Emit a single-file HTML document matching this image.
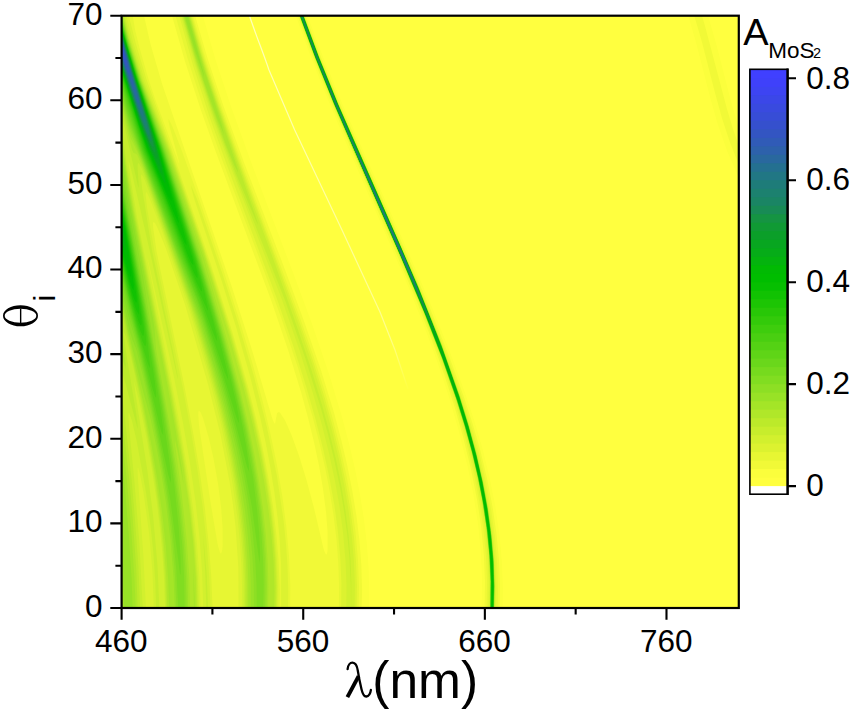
<!DOCTYPE html>
<html><head><meta charset="utf-8"><style>
html,body{margin:0;padding:0;background:#fff;width:850px;height:710px;overflow:hidden}
svg{display:block}
text{font-family:"Liberation Sans", sans-serif;fill:#000}
.t{font-size:31.5px}
</style></head><body>
<svg width="850" height="710" viewBox="0 0 850 710">
<rect x="121.6" y="15.7" width="617.1999999999999" height="592.3" fill="#ffff40"/>
<rect x="121.6" y="15.7" width="617.20" height="592.30" fill="rgb(255, 255, 63)"/>
<path fill="rgb(251, 254, 60)" fill-rule="evenodd" d="M368.6 607.7l-247 0.0 0 -592.0 81.2 0.0 12.3 42.7 15.5 47.1 21.5 59.6 41.7 109.6 18.1 49.0 17 50.0 13 43.0 7 26.5 6 25.5 5 25.5 4 25.0 2.9 24.5 1.7 23.0 0.7 25.5 -0.2 15.5 -0.4 0.0zM502.1 607.7l-20.4 0.0 0.4 -27.0 -1 -26.0 -3 -30.4 -4.5 -29.1 -6 -29.3 -9 -36.0 -9.5 -32.6 -11 -33.2 -13.5 -36.9 -16 -40.0 -62.3 -144.0 -21 -50.0 -16 -40.5 -13.5 -37.0 11.6 0.0 15.7 41.6 20 48.4 65.2 146.5 23.6 55.0 17.9 44.5 14.6 39.5 10 30.0 8.5 29.0 6.9 28.5 5.5 28.0 4 27.5 2.5 26.5 1.1 28.5 -0.4 18.5 -0.4 0.0zM738.6 177.1l-11.2 -25.4 -9.6 -27.5 -7.4 -26.0 -14.8 -57.5 -7.3 -25.0 19.7 0.0 0.9 3.0 7.5 26.0 14.7 57.3 7.5 25.6 0 49.5z"/>
<path fill="rgb(241, 249, 55)" fill-rule="evenodd" d="M361.6 607.7l-240 0.0 0 -592.0 22.4 0.0 6.6 28.9 11.5 39.5 69.7 202.6 19.5 61.0 20.8 70.3 2 5.0 0.5 0.6 0.5 -0.1 2 -10.4 1.5 -1.2 1.5 0.8 5 7.8 6.5 14.8 7.5 20.7 7.3 23.7 7.4 27.5 9.3 39.7 1.5 5.2 1.5 2.7 1 -1.4 0.5 -3.7 0 -17.6 -1.5 -19.6 -3 -23.3 -4 -23.1 -5 -23.7 -6 -24.5 -7 -25.6 -13 -42.4 -16.5 -48.3 -56.2 -150.9 -14.6 -41.0 -16 -49.0 -12.8 -45.0 23.1 0.0 12.5 42.7 15.5 46.5 21 57.8 41.3 108.0 19 51.5 16.4 47.5 13.1 42.5 7.4 28.0 6 25.5 5 25.0 4.1 25.0 3 24.5 1.9 24.5 0.8 25.5 -0.5 17.5zM499.6 607.7l-15 0.0 0.4 -26.0 -1.1 -26.5 -2.8 -29.0 -4 -26.5 -6 -30.0 -8 -32.7 -8.5 -30.0 -10.5 -32.7 -12.5 -34.9 -15.5 -39.7 -83.8 -194.5 -19.5 -48.5 -15 -41.0 7.6 0.0 15.7 41.6 19.5 47.4 67.2 151.5 22.6 53.0 18.9 47.5 14.5 40.0 9.1 28.0 7.5 26.0 6.9 29.0 5.4 28.0 3.7 25.5 2.5 26.0 1.1 25.0 -0.4 23.5zM738.6 164.2l-8.5 -21.4 -8 -24.4 -6.5 -23.3 -13.7 -53.4 -7.6 -26.0 7.6 0.0 2.7 8.7 22.3 84.3 6 20.0 5.7 16.5 0 19.0z"/>
<path fill="rgb(231, 246, 51)" fill-rule="evenodd" d="M290.1 607.7l-168.5 0.0 0 -592.0 11.1 0.0 2.4 14.2 5 20.2 8.5 29.3 6.5 19.6 24 64.8 0 -1.5 -9.5 -35.8 -1.1 -5.3 0.1 -2.4 4 8.1 9 23.4 17.8 49.4 23 67.5 16.9 52.5 13.5 45.0 9.6 35.5 7.9 33.0 6.6 31.5 5.4 31.5 4 30.5 2.6 28.0 1.4 30.0 -0.2 23.0zM358.6 607.7l-19.7 0.0 0.2 -22.5 -0.9 -23.5 -1.6 -20.9 -3 -25.2 -4 -25.0 -4.5 -22.9 -5.5 -24.1 -7 -26.9 -14 -47.1 -17.5 -52.0 -17 -46.7 -42.7 -113.2 -18 -50.5 -15.4 -47.5 -12.5 -44.0 17.5 0.0 12.6 43.0 16.5 49.5 21 58.0 55.8 148.5 13.9 39.5 11.5 35.5 8.6 29.5 7.9 31.0 6.1 27.5 5 28.0 3.6 26.0 2.4 27.0 1.1 27.0 -0.4 22.0zM497.1 607.7l-10.5 0.0 0.5 -25.0 -1 -25.5 -2.5 -26.4 -4 -27.6 -5.5 -28.4 -8 -33.2 -8.5 -30.5 -9.5 -30.0 -14 -39.4 -15.5 -39.5 -22 -51.9 -63.4 -146.1 -19 -47.0 -15.3 -41.5 5.4 0.0 15.3 40.9 19.5 47.6 65.8 148.5 22.5 53.0 20.5 51.5 15.5 43.5 8.9 28.0 7.1 25.0 6.5 28.0 5.3 28.5 3.7 26.5 2.2 26.0 0.9 28.0 -0.4 17.0 -0.5 0.0zM221.3 553.2l0.8 -2.3 0.6 -5.7 -0.1 -17.6 -1.5 -20.2 -3 -23.4 -4.5 -25.3 -5 -21.8 -5.5 -18.6 -2.5 -6.1 -1.5 -1.8 -0.7 0.8 -0.2 3.0 0.9 12.1 11 73.5 7.5 44.5 2 7.4 1 1.7 0.7 -0.2z"/>
<path fill="rgb(220, 242, 48)" fill-rule="evenodd" d="M279.6 607.7l-41.1 0.0 -0.1 -39.5 -2.8 -41.2 -2.5 -21.5 -3.5 -23.6 -9 -46.8 -12.5 -50.7 -23 -79.7 -19 -55.8 -8.5 -20.8 -2.5 -4.9 -1.5 -1.5 -0.6 1.5 0.2 5.0 3.4 23.5 27.7 134.0 9 48.0 6.6 39.5 5 35.5 3.9 36.0 2.5 32.5 1.2 30.5 -90.9 0.0 0 -592.0 7.2 0.0 7.2 28.5 10.6 35.5 25.4 70.5 37.4 109.5 23 72.5 15.5 54.0 8 31.5 6.9 31.0 5.5 28.5 4.6 28.5 3.4 28.5 2.1 24.0 1.4 31.0 -0.2 18.5zM356.6 607.7l-15.4 0.0 0.2 -25.0 -1.1 -25.0 -2.4 -26.5 -3.5 -26.0 -5.1 -28.0 -6 -27.5 -7.5 -29.5 -9.4 -33.0 -13 -41.0 -16.1 -46.5 -50.7 -135.4 -16.4 -45.6 -17.4 -54.0 -13.5 -49.0 12.6 0.0 12.7 43.5 15.5 46.9 21 58.6 58.2 156.5 14 40.5 11.5 36.5 8.4 30.0 7 28.5 5.6 26.5 4.6 26.5 3.4 26.0 2.1 24.5 1 25.0 -0.3 22.5zM495.6 607.7l-7.2 0.0 0.4 -25.0 -1 -25.0 -2.2 -24.5 -4 -27.9 -5.5 -28.6 -7.5 -31.4 -8 -29.1 -9 -28.7 -13 -36.8 -16.5 -42.0 -21.5 -51.0 -66.3 -152.0 -19.5 -48.0 -15.6 -42.0 4.8 0.0 14.6 39.5 20 49.0 76.8 174.5 26.1 64.5 20 56.0 8.8 28.0 7.5 26.5 6.6 28.5 4.9 26.5 3.7 26.0 2.3 26.0 0.9 26.0 -0.6 21.0zM288.1 607.7l-7 0.0 0 -42.6 -1.5 -26.3 -2 -21.3 -3 -23.8 -4 -25.0 -4.9 -26.0 -5.5 -25.5 -10.4 -42.0 -13.5 -47.5 -14.5 -46.5 -27.2 -81.3 -3 -10.7 -0.5 -3.7 6 14.0 8 23.2 17 50.4 15.5 48.1 16.5 55.8 13 51.1 10 48.9 6.5 43.8 2.5 24.6 1.4 20.8 0.7 22.5 -0.1 19.0z"/>
<path fill="rgb(210, 240, 46)" fill-rule="evenodd" d="M277.6 607.7l-35.8 0.0 0.2 -22.0 -0.7 -22.0 -1.2 -19.5 -2.5 -25.8 -6.5 -44.4 -10 -49.2 -12.5 -49.2 -19 -64.6 -27 -78.4 -11.5 -30.5 -3.5 -8.2 -1.5 -2.2 -0.5 3.0 1.5 13.3 7 41.7 28.5 137.4 8.5 45.2 6.5 38.9 5 35.5 4.1 36.0 2.5 33.0 1.3 32.0 -7.2 0.0 -1.2 -36.1 -2.5 -33.4 -4 -36.1 -5.5 -38.1 -7 -40.6 -8.5 -43.3 -27 -122.3 0 2.7 30.2 153.2 10.6 61.5 5 36.0 3.5 32.0 2.5 32.5 1.2 32.0 -46.8 0.0 -1.3 -35.5 -3.4 -39.0 -5.5 -40.2 -3.5 -18.5 -2 -7.0 -0.5 1.1 0.1 6.1 5.7 81.5 2.5 51.5 -24.3 0.0 0 -592.0 4.9 0.0 6.6 26.5 11.5 37.5 26.3 70.5 42 123.5 19.9 63.5 14.6 51.5 7.9 31.5 6.5 29.5 5.5 29.0 4.1 26.5 3.4 28.5 2.1 25.5 1 27.5 -0.3 21.0zM354.6 607.7l-8.3 0.0 0.2 -23.0 -1 -24.5 -2.4 -27.1 -3.5 -26.0 -4.5 -25.6 -6 -28.0 -7 -28.0 -9 -31.8 -14 -44.6 -17 -49.0 -52.2 -134.9 -17 -46.0 -18.1 -55.0 -13.8 -48.5 10.1 0.0 12 41.5 15.5 47.4 21 59.1 38 102.5 21 58.2 13.5 39.4 11.5 36.9 8 28.8 7 28.6 5.5 26.4 4.5 26.5 3.2 25.2 2.1 25.0 1 24.0 -0.3 22.5zM494.1 607.7l-4.5 0.0 0.5 -23.0 -1.5 -32.7 -3 -27.9 -4.5 -28.1 -5 -24.4 -6.5 -26.4 -6 -21.5 -8.5 -27.2 -14.5 -41.3 -16 -40.9 -24 -57.1 -45.8 -104.0 -21 -49.0 -19 -47.0 -15.4 -41.5 4.4 0.0 16.8 45.0 19.5 47.5 77.8 177.0 24 60.0 18.1 51.0 9.4 30.5 7.5 27.5 6.5 28.0 5.1 27.5 4 30.0 1.9 25.0 0.6 29.5 -0.4 13.5 -0.5 0.0z"/>
<path fill="rgb(199, 237, 44)" fill-rule="evenodd" d="M276.6 607.7l-32.9 0.0 0.1 -24.0 -0.9 -24.5 -1.8 -24.3 -3 -26.8 -4 -26.8 -5 -27.3 -6 -27.9 -7 -28.8 -16 -57.3 -12.5 -39.8 -32.5 -92.5 -10 -26.8 -2 -4.5 -1.5 -1.9 -0.5 0.7 -0.1 2.5 1.1 10.6 9.8 61.4 20.7 99.7 5 26.2 0.4 2.6 -0.4 0.3 -26.3 -120.8 -20.2 -88.7 -2.5 -8.5 0 3.7 2 15.4 7 41.0 34.7 172.1 7.5 40.0 6 35.5 5.5 39.0 4 36.0 2.5 33.5 1.2 31.0 -33.9 0.0 -1 -28.5 -1.5 -23.3 -2.5 -26.8 -3.5 -28.9 -5 -33.3 -5.5 -31.3 -7.5 -36.9 -4.5 -17.6 1 10.3 12.5 80.9 5.5 43.6 4.5 50.9 1.7 40.9 -3.2 0.0 -0.8 -26.0 -2 -29.5 -3 -28.5 -4.5 -32.5 -9.2 -50.8 -4.5 -19.2 -3 -8.6 -0.5 0.4 -0.2 2.7 0.7 11.5 5.2 53.0 5.1 63.0 3.3 64.5 -21.1 0.0 0 -592.0 3.2 0.0 5.3 21.8 13 42.4 26.8 69.8 34.4 100.5 25.3 79.3 17 59.8 8 32.1 6.5 29.8 5.2 27.5 4.3 28.0 3.1 26.5 2.1 26.0 1.1 27.0 -0.3 21.5zM351.1 606.9l-0.3 -22.2 -1.4 -28.0 -2.1 -21.5 -3 -22.5 -3.9 -23.5 -5.6 -27.0 -6.4 -26.5 -7.1 -26.0 -16 -51.5 -19.9 -57.0 -51.5 -129.5 -19.5 -52.0 -18.5 -55.5 -13.9 -48.5 8.4 0.0 11.2 39.1 14 43.5 35.9 101.4 23.6 64.5 23 66.0 13.5 40.4 10.5 34.6 7.5 27.7 6.5 27.2 5.5 27.2 4 24.4 3 24.1 2 24.7 0.7 20.7 -0.2 25.7zM494.1 607.7l-4.2 0.0 0.3 -30.0 -1.1 -22.5 -3 -29.3 -4.5 -28.6 -5 -24.6 -6 -24.7 -6.5 -23.3 -8.5 -27.3 -14.5 -41.3 -17 -43.4 -22.5 -53.5 -45.8 -104.0 -22.5 -52.5 -19 -47.0 -14.7 -40.0 3.5 0.0 0.8 0.5 13.7 37.0 20.5 50.5 79.3 180.5 24 60.0 18.5 52.5 9.5 30.5 7.5 28.0 6 26.0 5 26.5 3.5 25.0 2.5 27.5 0.9 27.5 -0.7 20.0zM178.1 380.7l0 -2.4 0 2.4zM178.6 382.8l0 -1.6 0 1.6zM202.6 534.4l0 -3.7 0 3.7zM208.1 607.7l-1.8 0.0 -0.9 -32.5 -2.3 -40.5 3.5 38.2 1.5 34.8z"/>
<path fill="rgb(188, 234, 42)" fill-rule="evenodd" d="M275.6 607.7l-30.4 0.0 0.1 -23.5 -0.9 -24.0 -1.8 -25.0 -2.8 -25.0 -3.6 -25.0 -4.6 -25.8 -5.5 -26.3 -7 -29.5 -12.5 -46.0 -15.5 -50.6 -43.5 -123.4 -6 -15.6 -3 -5.1 -0.8 0.8 -0.3 3.0 1.3 21.0 -0.7 -1.3 -13 -57.5 -3.5 -12.1 0 -101.1 2.2 0.0 5.3 21.7 13 42.4 27 70.2 34.5 100.4 25.5 80.6 17 60.1 7.5 30.3 6.5 29.7 5.5 29.4 4 26.2 3 25.1 2.2 26.9 1 27.0 -0.2 22.0zM257.6 224.6l-21.5 -50.8 -20.7 -54.1 -18.5 -55.0 -14.2 -49.0 7.1 0.0 8.8 31.4 10.7 34.6 45.8 133.3 2.5 7.7 0 1.9zM494.1 607.7l-4 0.0 0.2 -26.5 -1.2 -27.8 -3 -28.5 -4.5 -28.3 -5 -24.4 -5.5 -22.7 -7 -25.2 -8 -25.7 -14.5 -41.4 -18 -46.0 -23 -54.5 -44.3 -100.5 -22.5 -52.5 -18.4 -45.5 -15.8 -42.5 3.5 0.0 0.7 0.5 14.3 38.5 19.5 48.0 80.3 183.0 23 57.5 17.9 50.5 9.6 30.5 8 29.5 6.5 28.0 5 27.0 3.5 25.0 2.5 28.5 0.7 23.0 -0.5 22.5zM197.6 607.7l-31.4 0.0 -1.1 -31.0 -2.3 -31.5 -3.6 -34.0 -4.6 -33.0 -7 -41.5 -9 -45.6 -9 -40.6 -4 -14.7 -2 -4.8 0 3.5 2 15.0 10.5 64.0 1.5 11.4 0 4.0 -11.5 -43.6 -4.5 -14.5 0 -244.1 5 37.5 8 46.6 36.7 181.9 13 72.5 5.8 41.0 4.1 36.5 2.7 36.5 0.7 28.5zM258.1 225.3l0 -0.7 0 0.7zM140.1 607.7l-18.5 0.0 0 -219.2 10 91.2 2.6 30.0 4.1 55.0 1.8 43.0z"/>
<path fill="rgb(176, 231, 41)" fill-rule="evenodd" d="M274.1 607.7l-27.5 0.0 0.2 -23.5 -0.9 -24.0 -1.7 -23.5 -2.8 -25.5 -3.6 -25.0 -4.9 -27.0 -5.5 -26.5 -6.5 -27.0 -10.6 -39.5 -13.8 -46.5 -29.9 -85.7 -24 -66.8 -5 -11.4 -1.5 -2.0 -2.5 -0.9 -1.5 -3.0 -10.5 -41.8 0 -92.4 1.5 0.0 5.5 22.3 13 42.4 26.7 69.8 36.3 106.1 24 77.5 16 57.5 8 32.7 6.5 30.4 5 27.1 4.5 29.7 3 25.8 2 26.0 0.9 28.2 -0.4 16.5zM238.1 172.8l-4 -8.1 -8 -19.5 -16 -43.1 -15 -45.5 -11.7 -40.9 5.8 0.0 15.1 52.5 30.3 91.4 3 9.7 0.5 3.5zM493.6 607.7l-3.4 0.0 0.3 -24.0 -1.4 -31.5 -3 -28.0 -4 -25.4 -5 -24.8 -6 -24.9 -6.5 -23.4 -8.5 -27.4 -13.5 -38.6 -17.5 -45.0 -25.5 -60.5 -44.3 -100.5 -21.4 -50.0 -19.1 -47.0 -15.1 -41.0 3.8 0.0 15.1 40.5 20 49.0 78.8 179.5 24 60.0 18 51.0 9.4 30.5 7.6 28.0 6.5 28.0 5 27.0 3.9 29.5 2 25.0 0.7 28.5 -0.4 15.5 -0.5 0.0zM196.6 607.7l-29.3 0.0 -1 -30.5 -2.4 -32.5 -3.5 -33.0 -4.6 -32.5 -6 -36.0 -7.5 -39.5 -20.7 -93.7 0 -172.9 5 33.4 7 39.7 36 179.0 13.5 75.3 6 41.8 4 36.0 2.6 33.9 0.9 31.5zM125.6 368.6l-4 -11.7 0 -20.3 4 27.4 0 4.6zM137.6 607.7l-16 0.0 0 -193.5 7.7 65.5 3.2 36.5 3.8 54.0 1.3 37.5z"/>
<path fill="rgb(164, 229, 39)" fill-rule="evenodd" d="M268.1 607.7l-19.8 0.0 0.1 -24.0 -0.9 -24.5 -1.7 -23.0 -2.9 -25.5 -3.5 -24.0 -4.6 -25.5 -5.4 -26.0 -6.6 -27.5 -10.9 -40.5 -14.2 -47.5 -54.6 -153.7 -5 -12.7 -7.5 -15.5 -5.2 -19.1 -3.8 -15.3 0 -87.7 0.9 0.0 5.6 22.4 12.9 42.1 26.3 70.0 36.8 108.8 23.8 84.2 12.4 47.0 7.5 32.0 6.6 32.0 4.4 25.5 4.1 28.5 3 27.0 1.8 26.0 0.7 25.0 -0.3 21.5zM224.1 134.7l-6.5 -15.0 -13.5 -38.0 -11 -34.2 -9.1 -31.8 4.6 0.0 11.7 42.0 21.3 66.9 2.5 10.1zM493.6 607.7l-3.4 0.0 0.4 -25.5 -1 -24.3 -2.5 -26.5 -4.5 -30.2 -5 -25.3 -6 -25.2 -7.5 -27.0 -7.5 -24.1 -14.5 -41.5 -18 -46.0 -24 -56.9 -65.7 -150.5 -18.5 -45.5 -16.2 -43.5 3.8 0.0 16.6 44.4 19.5 47.6 60.3 136.5 18.4 43.0 23.5 59.0 17.5 49.5 9 29.0 8 29.5 6.6 28.5 5 27.0 3.9 30.0 2 25.0 0.6 26.5 -0.4 16.5 -0.4 0.0zM190.1 607.7l-20.9 0.0 -0.9 -26.5 -2.4 -34.0 -3.5 -32.5 -4.5 -32.0 -6 -35.5 -8.5 -44.0 -21.8 -98.1 0 -161.5 10.3 62.1 35.7 180.4 8 43.8 6 37.3 2 17.5 -5.9 -32.5 -2.6 -11.6 0 4.2 6.3 46.9 5.4 49.5 2.5 36.0 0.8 30.5zM135.1 607.7l-13.5 0.0 0 -170.2 5.3 42.7 4.2 48.1 3.4 51.4 1.1 28.0 -0.5 0.0zM184.1 487.1l0 -1.2 0 1.2zM191.6 552.5l0 -1.5 0 1.5zM192.1 560.2l0 -4.2 0 4.2zM192.6 568.3l0 -6.5 0 6.5zM194.6 607.7l-0.6 0.0 -0.9 -39.4 1.5 27.4 0 12.0z"/>
<path fill="rgb(152, 226, 38)" fill-rule="evenodd" d="M266.6 607.7l-15.8 0.0 0 -23.0 -1 -24.5 -2 -25.0 -2.9 -25.5 -3.5 -23.0 -5.1 -27.0 -11.9 -52.0 -11.1 -40.5 -14.4 -47.5 -56.3 -157.2 -12.5 -30.9 -5.7 -20.4 -2.8 -11.7 0 -83.8 0.4 0.0 7.1 27.4 11.4 37.1 25.8 70.0 33.6 102.0 25.4 87.0 14.6 54.5 7.4 32.0 6 30.0 4.5 26.5 3.9 28.0 2.8 25.5 1.7 25.0 0.7 24.5 -0.3 22.5zM204.1 76.8l-9.5 -27.7 -9.8 -33.4 3 0.0 15.8 57.4 0.5 3.7zM493.6 607.7l-3.3 0.0 0.4 -26.0 -1.1 -24.8 -2.5 -26.0 -4.5 -30.1 -5 -25.2 -6 -25.1 -7 -25.3 -8 -25.8 -15 -42.8 -18 -45.9 -23 -54.5 -65.8 -150.5 -19.4 -48.0 -15.6 -42.0 3.6 0.0 15.7 42.0 20 49.0 78.8 179.5 22.9 57.5 18.6 52.5 9.4 30.5 7.6 28.0 6.4 28.0 5.1 27.5 3.4 25.5 2.1 23.0 0.9 27.5 -0.7 21.5zM204.6 77.8l0 -0.7 0 0.7zM188.1 607.7l-13.3 0.0 -1.2 -29.5 -3 -36.9 -4.5 -37.7 -5 -31.5 -4.5 -24.7 -6 -28.3 -10 -37.3 -12.6 -51.6 -6.4 -29.6 0 -151.0 9.3 55.1 22.2 114.9 1.5 10.0 1.5 20.1 12.8 71.5 7.5 47.5 5.5 42.5 3.4 34.0 2.2 34.0 0.6 28.5zM132.6 607.7l-8.4 0.0 -2.6 -52.6 0 -93.2 2.6 18.3 4.4 51.9 3 46.6 1 29.0z"/>
<path fill="rgb(141, 223, 36)" fill-rule="evenodd" d="M265.1 607.7l-11.1 0.0 -0.2 -24.0 -1.4 -27.5 -2.5 -27.0 -3.8 -29.0 -4.5 -25.3 -5.5 -26.7 -7.8 -32.0 -8.4 -31.5 -19.7 -65.0 -57.6 -159.3 -13 -34.1 -5.2 -18.6 -2.8 -11.7 0 -80.3 6 23.5 12.5 41.0 25.4 70.0 35.5 109.5 23.3 79.5 15 56.5 7 30.5 5.9 30.0 4.4 26.0 4 29.4 2.5 24.1 1.7 25.0 0.6 24.0 -0.3 23.0zM493.6 607.7l-3.2 0.0 0.3 -26.5 -1.1 -25.2 -2.5 -25.7 -4.5 -29.8 -5 -25.2 -6 -25.1 -6.5 -23.5 -8.5 -27.5 -14 -40.1 -17.5 -44.9 -24.5 -58.1 -65.7 -150.4 -19.5 -48.0 -15.6 -42.0 3.6 0.0 14.7 39.6 19.5 47.9 63.2 143.5 18 42.0 22.5 56.5 18 51.0 9 29.0 8 29.5 6.5 28.5 5 27.0 3.5 26.0 2 23.5 1 27.0 -0.7 21.0zM186.6 607.7l-10.1 0.0 -1.6 -34.0 -3.1 -36.5 -4.6 -37.0 -6.1 -37.2 -8.5 -43.9 -9 -40.7 -7 -28.2 -4 -9.9 -3 -9.5 -8 -35.2 0 -139.0 6.3 37.6 15.6 85.0 11.1 70.5 12.2 67.0 8 50.5 5.5 42.5 3.3 33.1 2.2 33.9 0.8 31.0z"/>
<path fill="rgb(129, 221, 33)" fill-rule="evenodd" d="M493.6 607.7l-3.2 0.0 0.4 -26.5 -1.2 -25.5 -2.5 -25.8 -4.5 -29.7 -5 -25.0 -5.9 -25.0 -7.1 -25.4 -8 -25.6 -14.5 -41.5 -18 -46.0 -24.5 -58.0 -65.7 -150.5 -19 -47.0 -15 -40.5 3.4 0.0 15.3 41.0 20 49.0 61.7 140.0 18.5 43.0 22.5 56.5 17.5 49.5 9.4 30.5 8 29.5 6 26.0 5.1 27.0 3.5 24.5 2.5 27.5 0.9 26.5 -0.6 21.5zM263.1 607.7l-6.3 0.0 -0.2 -22.5 -1.4 -26.5 -2.5 -26.5 -3.6 -27.5 -4.5 -25.7 -6 -28.7 -13 -51.4 -11.5 -39.6 -12.5 -39.6 -26 -69.7 -46 -127.2 -5 -17.4 -3 -12.9 0 -75.2 6 23.2 12 39.2 25.1 70.5 35.5 110.0 23.1 78.5 15.3 58.2 7 31.2 5.5 28.4 4.5 27.7 3.5 26.8 2.5 24.9 1.5 24.3 0.6 25.5 -0.6 22.0zM184.6 607.7l-6.3 0.0 -2 -38.5 -4.4 -44.5 -5.1 -36.0 -8.6 -48.0 -8.6 -41.8 -11 -47.9 -10.3 -35.3 -6.7 -27.4 0 -120.6 42.7 241.0 8.8 55.6 5.5 43.6 3.5 35.8 2 33.1 0.5 30.9z"/>
<path fill="rgb(118, 218, 30)" fill-rule="evenodd" d="M493.6 607.7l-3.1 0.0 0.3 -26.5 -1.1 -26.0 -2.6 -25.5 -4.4 -29.5 -4.6 -23.0 -6 -25.5 -7.5 -27.0 -7.9 -25.5 -15.1 -43.0 -17 -43.5 -23 -54.5 -67.2 -154.0 -18.5 -45.5 -16 -43.0 3.4 0.0 15.3 41.0 20 49.0 79.7 182.0 23.5 59.0 16.9 48.0 9 29.0 8.1 29.5 6.5 28.0 4.9 26.5 3.6 25.0 2.4 27.5 0.9 26.0 -0.5 21.5zM259.6 563.7l-7.7 -57.0 -6.1 -32.0 -10.1 -44.0 -14.1 -51.5 -19.5 -61.9 -6.1 -17.1 -19.4 -50.1 -36.4 -99.9 -11.6 -33.8 -3 -10.3 -4 -17.3 0 -70.1 6 22.9 11.5 37.6 24.8 70.5 35.4 110.0 20.8 71.0 13 48.0 11.5 50.2 8.5 48.8 4 32.6 2 22.0 1 20.9 -0.5 10.5zM180.1 574.2l-9.7 -74.0 -9.1 -50.5 -10.3 -49.5 -10.9 -47.7 -10.7 -39.8 -7.8 -32.2 0 -103.2 24.2 131.4 17.3 99.3 5.5 34.5 5.5 40.6 4.5 43.6 2 31.5 0.1 13.5 -0.1 2.5 -0.5 0.0z"/>
<path fill="rgb(106, 215, 27)" fill-rule="evenodd" d="M493.6 607.7l-3 0.0 0.3 -26.5 -1.2 -26.0 -2.5 -25.5 -4.5 -29.5 -4.5 -23.0 -6 -25.5 -7.5 -27.0 -7.9 -25.5 -15.1 -43.0 -17.1 -43.5 -24.5 -58.1 -65.7 -150.4 -18.5 -45.5 -15.9 -43.0 3.3 0.0 15.2 41.0 19.6 48.0 80.2 183.0 22.5 56.5 18 51.0 9.5 30.5 7.4 27.5 6.5 28.0 5.1 27.0 3.5 25.0 2.4 27.0 0.8 25.0 -0.4 22.5zM249.1 471.8l-2 -4.7 -12.8 -48.4 -10 -35.5 -19.9 -63.0 -7.2 -20.5 -19.6 -49.8 -36.7 -99.7 -14.3 -43.9 -5 -21.2 0 -65.2 6 22.7 11.5 37.6 24.3 69.5 35.2 110.0 20 68.6 12 44.7 9 38.3 6.5 34.5 2.5 17.3 0.5 8.7zM170.6 482.7l-2.5 -8.7 -15.8 -73.3 -11.6 -50.0 -9.3 -34.5 -9.8 -40.6 0 -92.9 22.3 119.5 18.2 107.0 7.5 53.5 1.4 15.5 -0.4 4.5z"/>
<path fill="rgb(95, 213, 23)" fill-rule="evenodd" d="M493.1 607.7l-2.4 0.0 0.3 -26.5 -1.2 -26.0 -2.6 -26.0 -4 -26.5 -4.5 -23.5 -6 -25.5 -7.5 -27.5 -8.1 -26.0 -14.4 -41.5 -18 -46.0 -24.1 -57.0 -66.1 -151.5 -19.1 -47.0 -15.4 -41.5 3.2 0.0 15.9 42.5 19 46.5 63.2 143.5 18 42.0 22.9 58.0 17 48.5 9 29.0 8 29.5 6 26.0 5 27.0 3.5 25.0 2.5 28.0 0.8 28.0 -0.4 18.5 -0.5 0.0zM239.1 423l-1 -1.2 -2 -5.5 -20.3 -65.6 -14.2 -42.0 -22.7 -58.5 -37.2 -100.0 -15.1 -47.8 -5 -20.7 0 -60.6 6 22.5 11 36.0 24.3 70.1 38.7 122.2 17 59.8 10 38.1 8 35.4 2 11.3 0.5 6.5zM163.1 435.1l-1.5 -2.9 -2.5 -9.1 -17.5 -72.9 -9.7 -35.5 -10.3 -42.8 0 -85.1 8.4 43.4 16.7 92.5 13.9 86.5 2.5 20.4 0 5.5z"/>
<path fill="rgb(84, 210, 20)" fill-rule="evenodd" d="M493.1 607.7l-2.4 0.0 0.3 -26.5 -1.2 -26.5 -2.5 -25.5 -4 -26.5 -5 -25.5 -6 -25.5 -7 -25.5 -8.1 -26.0 -14.5 -41.5 -18 -46.0 -24 -57.0 -65.8 -150.5 -19.4 -48.0 -15.4 -41.5 3.1 0.0 15.8 42.5 19 46.5 63.2 143.5 17.6 41.0 22.4 56.5 18 51.0 8.9 29.0 8 29.5 6.1 26.5 4.9 26.5 3.6 25.5 2.4 28.0 0.8 27.5 -0.3 17.0 -0.1 1.5 -0.4 0.0zM228.1 380.1l-3.5 -8.3 -24.7 -71.6 -16.1 -40.5 -41.4 -109.5 -16.1 -52.5 -4.7 -18.7 0 -56.9 6 22.4 10.5 34.4 24.3 70.8 35.2 111.0 22 79.2 7 29.1 1.5 7.8 0 3.3zM156.1 397.4l-1 -1.0 -2.5 -7.7 -9.9 -38.5 -6.6 -22.5 -14.5 -59.0 0 -78.5 7.8 40.0 15.3 85.0 9.9 65.1 1.5 12.6 0 4.5z"/>
<path fill="rgb(73, 207, 17)" fill-rule="evenodd" d="M493.1 607.7l-2.3 0.0 0.3 -24.5 -1.3 -29.0 -2.5 -25.5 -4 -26.5 -5 -25.5 -6 -25.0 -7 -25.5 -8 -26.0 -14.5 -41.5 -17.6 -45.0 -24.1 -57.0 -66.1 -151.5 -19.5 -48.0 -15.4 -41.5 3 0.0 15.9 42.5 19 46.5 62.8 142.5 17.9 42.0 22.5 56.5 17.9 51.0 9.6 31.0 7.5 28.0 6 26.0 5 27.0 3.4 25.0 2.5 28.2 0.8 26.8 -0.3 15.9 -0.5 3.1zM217.1 340.9l-1.5 -2.3 -3 -7.3 -11.4 -31.1 -16.3 -40.5 -22.2 -59.5 -19.5 -50.0 -16.9 -55.5 -4.7 -17.6 0 -54.0 6 22.2 10.5 34.4 23.9 70.0 34.6 110.0 17 62.7 3 12.9 0.5 5.6zM150.1 367.4l-0.5 0.1 -1.5 -3.6 -10.5 -34.0 -7.9 -29.7 -8.1 -34.3 0 -72.7 7.2 37.0 14.8 82.9 3.5 23.7 3 30.6z"/>
<path fill="rgb(62, 205, 13)" fill-rule="evenodd" d="M493.1 607.7l-2.2 0.0 0.3 -23.0 -0.9 -25.5 -2.5 -26.5 -4 -28.0 -5.1 -26.0 -5.9 -25.5 -7 -25.5 -8.5 -27.5 -15 -43.0 -17.1 -43.5 -24 -57.0 -66.2 -151.5 -19.5 -48.0 -15.3 -41.5 2.9 0.0 15.8 42.5 20.1 49.0 61.7 140.0 18 42.0 22.4 56.5 18 51.1 9.5 30.9 7.5 28.0 6 26.0 5 27.0 4 29.7 2 24.6 0.7 25.7 -0.7 19.0zM207.6 310.5l-9 -19.8 -12.4 -30.5 -22.4 -60.0 -19.8 -50.0 -18.2 -59.5 -4.2 -15.3 0 -51.4 6 22.1 10 32.9 23.9 70.7 34.6 110.5 8 30.3 3.5 16.4 0.4 2.8 -0.4 0.8zM145.6 346l-1 -0.5 -2 -4.0 -5 -15.0 -7.5 -27.8 -8.5 -35.5 0 -67.1 6.7 34.1 13.8 78.3 3.5 25.2 0.6 8.5 -0.6 3.8z"/>
<path fill="rgb(51, 202, 10)" fill-rule="evenodd" d="M493.1 607.7l-2.2 0.0 0.4 -24.0 -1 -25.0 -2.5 -26.5 -4 -27.5 -5 -26.0 -6 -25.5 -7.5 -27.5 -7.9 -25.5 -14.1 -40.5 -18 -46.0 -24.1 -57.0 -67.2 -154.0 -19 -47.0 -14.8 -40.0 2.8 0.0 15.9 42.5 20 49.0 61.3 139.0 19.5 45.5 21.9 55.5 17.5 49.8 9 29.1 8 29.7 6 26.2 5 27.0 4 30.0 2 25.2 0.6 24.5 -0.6 19.0zM201.6 291.4l-1.5 -1.9 -3 -5.9 -9.9 -23.4 -22.4 -60.0 -20 -50.0 -19 -61.5 -4.2 -14.7 0 -49.1 6 22.0 10 32.8 23.5 70.0 34 109.9 6 23.8 1 6.3 -0.5 1.7zM143.6 335.7l-1 -0.1 -2 -4.0 -4.5 -13.8 -6.5 -23.9 -8 -33.3 0 -61.7 6.1 31.3 12.4 70.5 3.5 25.5 0.4 6.0 -0.4 3.5z"/>
<path fill="rgb(40, 199, 7)" fill-rule="evenodd" d="M493.1 607.7l-2.1 0.0 0.4 -25.0 -1.1 -25.0 -2.5 -26.0 -4 -27.5 -5 -26.0 -6 -25.5 -7 -25.5 -8.5 -27.5 -14.5 -41.5 -17 -43.5 -24.5 -58.0 -67.2 -154.0 -19.1 -47.0 -14.8 -40.0 2.8 0.0 16.4 44.0 19.1 46.5 61.7 140.0 19.4 45.5 22.5 56.9 17 48.6 9.5 30.9 7.5 27.9 6 26.3 5 27.1 3.5 25.6 2 22.2 1 25.5 -0.5 25.0zM197.6 278.2l-1 -0.7 -2 -3.5 -6.2 -13.8 -22.6 -60.0 -20.2 -50.0 -19.9 -63.5 -4.1 -14.0 0 -46.9 5.5 20.2 9.5 31.3 24.1 72.4 29.9 97.9 5.5 19.8 1.5 7.4 0 3.4zM141.1 325.5l-1 -0.9 -1.5 -3.3 -4.5 -13.9 -12.5 -49.2 0 -56.6 5.6 28.6 11.4 66.0 2.8 21.5 0.2 6.0 -0.5 1.8z"/>
<path fill="rgb(28, 197, 4)" fill-rule="evenodd" d="M493.1 607.7l-2 0.0 0.3 -26.0 -1.1 -25.0 -2.4 -25.5 -4.1 -27.5 -4.9 -25.5 -6.1 -25.5 -6.9 -25.5 -8.5 -27.5 -14.6 -41.5 -17 -43.5 -24.1 -57.0 -67.6 -155.0 -19 -47.0 -14.8 -40.0 2.6 0.0 15.5 41.5 20 49.0 61.7 140.0 19.5 45.5 21.5 54.4 17.5 49.7 9.5 30.8 7.5 27.7 6 25.9 5 26.6 3.5 24.6 2.5 27.0 1 27.3 -0.5 22.0zM193.1 265.1l-2 -2.7 -3 -6.6 -21.4 -55.6 -20.4 -50.0 -23.9 -76.0 -0.8 -2.7 0 -44.9 13.5 46.6 24.6 74.5 25.9 86.4 7 24.6 0.8 4.5 -0.3 1.9zM138.6 314.3l-2.5 -4.7 -3.5 -10.9 -11 -42.9 0 -51.5 5.1 25.9 9.9 58.6 2.5 19.7 0 4.7 -0.5 1.1z"/>
<path fill="rgb(17, 194, 2)" fill-rule="evenodd" d="M492.6 607.7l-1.3 0.0 0.1 -31.0 -1.5 -27.0 -2.5 -23.0 -3.1 -20.5 -4.9 -26.0 -6.1 -26.0 -6.9 -25.5 -8.6 -28.0 -14 -40.0 -17.5 -45.0 -26 -61.5 -64.7 -148.0 -19.5 -48.0 -15.8 -42.5 2.6 0.0 15.5 41.5 20 49.0 61.7 140.0 19 44.5 22.5 56.9 17.5 50.0 9.5 31.0 7.5 28.0 6 26.4 5 27.4 3.5 26.1 2 23.4 0.8 28.3 -0.3 18.3 -0.1 1.2 -0.4 0.0zM186.6 245.6l-2 -3.2 -4 -9.2 -33.7 -83.5 -6.9 -20.5 -18 -57.5 -0.4 -1.3 0 -43.0 5.5 20.1 9.5 31.3 23.4 71.4 23.6 81.1 2.5 9.7 0.5 4.6zM136.1 302.8l-2 -3.7 -3 -9.3 -9.5 -36.4 0 -46.3 4.6 23.1 7.9 47.9 2.5 19.4 0.1 4.2 -0.6 1.1z"/>
<path fill="rgb(6, 191, 1)" fill-rule="evenodd" d="M492.6 607.7l-1.2 0.0 0.3 -23.5 -1.4 -30.5 -2.4 -24.0 -3.6 -24.0 -4.9 -26.0 -6 -25.5 -7.1 -26.0 -8.4 -27.5 -14.5 -41.5 -17.1 -43.5 -26 -61.5 -65.7 -150.5 -19 -46.9 -15.2 -41.1 2.4 0.0 16.1 43.0 19 46.5 61.7 140.0 19.5 45.5 23 58.5 16.5 47.1 9.5 30.8 7.5 27.8 6 26.1 5 26.9 4 29.6 2 24.5 0.7 25.7 -0.7 20.0zM179.1 223.2l-1.5 -2.0 -3 -6.6 -27.1 -64.9 -7.1 -20.5 -18.6 -59.0 -0.2 -42.1 15 51.5 23 70.6 17.5 63.0 2 10.0zM133.6 290.3l-1.5 -2.4 -2.5 -7.3 -8 -29.8 0 -40.9 4 20.3 6.5 40.6 1.7 14.4 -0.2 5.1z"/>
<path fill="rgb(0, 189, 0)" fill-rule="evenodd" d="M492.1 607.7l-0.2 -28.0 -1 -21.5 -2.5 -25.5 -3.5 -24.5 -5 -26.5 -6 -26.0 -7 -26.0 -9.1 -29.5 -14 -40.0 -17 -43.5 -21.5 -51.0 -71.7 -164.5 -18 -44.5 -15.2 -41.0 2.4 0.0 16.1 43.0 19 46.5 63.2 143.5 17.5 41.0 22.5 57.0 18 51.5 9.5 31.0 7 26.1 6 26.3 5 27.0 4 30.4 2 26.7 0.4 22.5 -0.4 18.4 -0.5 1.1zM171.6 201.3l-3 -4.3 -4 -8.2 -16.4 -39.1 -8.3 -23.5 -18.3 -57.8 0 -39.5 14.5 49.8 23 71.3 10.5 38.2 1.9 9.0 0.1 4.1zM130.6 276.9l-3 -7.4 -6 -21.5 0 -35.1 3.5 17.3 3.5 22.7 2.5 19.8 0 3.5 -0.5 0.7z"/>
<path fill="rgb(1, 186, 3)" fill-rule="evenodd" d="M491.1 555.5l-2.2 -21.3 -3 -21.0 -4 -22.5 -4.5 -21.0 -5.5 -22.5 -6.5 -23.0 -7.4 -24.0 -8.1 -23.5 -13.6 -36.5 -20.4 -50.0 -64.3 -147.0 -21.5 -50.5 -16 -40.0 -13.6 -37.0 2.2 0.0 16.7 44.5 19.5 47.5 75.7 172.5 19 47.0 16.5 44.6 10 29.9 7.5 24.5 11.5 44.5 5 24.4 3.5 21.4 3 25.6 0.5 13.4zM168.1 191.8l-2.5 -3.6 -4 -8.3 -14.7 -35.2 -8.5 -24.5 -16.8 -52.7 0 -37.9 13.5 46.6 17.4 53.5 6.1 20.0 9 34.3 1.1 6.2 -0.1 1.3 -0.5 0.3zM127.6 262.7l-2.5 -6.0 -3.5 -11.8 0 -28.8 2.8 14.1 2.7 18.4 1 10.1 0 3.5 -0.5 0.5z"/>
<path fill="rgb(4, 179, 14)" fill-rule="evenodd" d="M483.1 495.1l-7.2 -32.9 -9.5 -35.5 -10.1 -32.0 -15.4 -43.0 -12.5 -31.5 -17.6 -42.0 -57.2 -130.5 -20.5 -47.9 -18 -44.6 -14.6 -39.5 2.2 0.0 14.7 39.5 18.5 45.5 18.5 43.0 51.2 115.5 16 38.0 12.5 31.5 18 49.3 15 47.2 10.5 40.1 5 23.9 1 5.5 -0.5 0.4zM165.6 183l-0.5 0.1 -1 -1.2 -3.5 -6.6 -14 -32.9 -8.7 -24.7 -16.3 -51.1 0 -36.3 12.8 44.4 22.2 69.8 7.5 28.6 1.5 9.9zM125.1 250.6l-3.5 -9.4 0 -21.3 2.1 10.3 1.4 11.0 0.6 7.5 -0.1 1.4 -0.5 0.5zM483.6 497.6l-0.4 -2.4 0.4 -0.5 0 2.9zM484.1 500.1l0 -2.4 0 2.4zM484.6 502.2l0 -1.1 0 1.1z"/>
<path fill="rgb(6, 172, 24)" fill-rule="evenodd" d="M456.1 392.8l-15.2 -41.6 -14.1 -35.0 -22 -52.0 -70.2 -161.0 -19 -46.9 -15 -40.6 2.1 0.0 14.6 39.5 19.5 48.0 19.1 44.0 44.2 99.5 20 47.0 12 30.0 12.5 33.5 9 26.0 2.5 8.0 0 1.6zM162.6 174.5l-1.5 -1.3 -3 -5.7 -7.8 -17.3 -4.7 -11.8 -8.8 -25.2 -15.2 -47.4 0 -34.8 12.3 42.7 21.2 67.1 6.5 25.7 1 8.0zM122.6 237.9l-1 -1.7 0 -11.2 1.3 7.7 -0.3 5.2zM456.6 394.1l0 -1.2 0 1.2z"/>
<path fill="rgb(8, 166, 32)" fill-rule="evenodd" d="M444.6 360.2l-7.8 -20.0 -25.4 -61.0 -77.8 -178.5 -17 -42.0 -16 -43.0 2 0.0 15.2 41.0 20 49.0 61.8 140.0 16.5 38.5 18.5 46.4 10 27.7 0.4 1.4 -0.4 0.5zM159.6 166l-2 -2.4 -5 -9.8 -8.5 -20.7 -9 -26.2 -13.5 -42.0 0 -33.2 11.8 41.0 20.2 64.3 4.5 17.6 1.5 8.1 0 3.3zM445.1 361.4l-0.5 -1.2 0.5 -0.4 0 1.6zM445.6 362.5l0 -1.1 0 1.1zM446.1 363.6l0 -0.5 0 0.5z"/>
<path fill="rgb(11, 159, 41)" fill-rule="evenodd" d="M436.1 337.3l-28.8 -67.6 -70.7 -162.0 -20.5 -50.5 -15.4 -41.5 1.9 0.2 15.8 42.3 18.9 46.5 75.8 172.5 17 42.0 5.5 14.9 0.5 3.2zM157.1 158.4l-1.5 -1.2 -3.5 -6.3 -8.5 -20.4 -9.5 -27.6 -12.5 -38.8 0 -31.6 11.3 39.2 19.2 61.6 4.5 17.8 0.8 5.1 -0.3 2.2z"/>
<path fill="rgb(16, 154, 52)" fill-rule="evenodd" d="M432.6 328.4l-95.5 -219.7 -21.5 -53.0 -14.8 -40.0 1.6 0.0 0.2 0.4 18.2 48.6 23 55.5 68.8 156.0 16 39.5 4 11.0 0 1.7zM155.1 152.8l-1.5 -1.4 -2.5 -4.5 -7.5 -17.7 -9.5 -27.2 -12.5 -38.7 0 -30.1 10.7 37.5 18.8 60.5 4 16.7 0.4 3.3 -0.4 1.6z"/>
<path fill="rgb(21, 148, 66)" fill-rule="evenodd" d="M429.1 319.5l-92.5 -212.3 -20.5 -50.5 -15.1 -41.0 1.3 0.0 0.3 0.8 16.7 44.7 22.5 54.5 70.3 159.5 14 34.5 3 8.3 0 1.5zM153.1 147.3l-1.5 -1.7 -2.5 -4.7 -6.5 -15.7 -8.5 -24.2 -12.5 -38.5 0 -28.6 9.7 34.3 18.8 61.1 3 12.9 0.5 4.0 -0.5 1.1z"/>
<path fill="rgb(24, 139, 85)" fill-rule="evenodd" d="M425.6 310.8l-68.5 -156.1 -21 -49.0 -18.5 -45.5 -16.5 -44.5 1 0.0 14.7 39.5 18.5 45.5 17 39.5 53.8 121.0 16.5 40.0 3 8.2 0 1.4zM151.6 141.4l-1 -0.2 -2.5 -4.3 -6 -14.3 -8 -22.4 -12.5 -38.5 0 -27.1 9.8 34.6 16.7 54.7 3 12.0 0.5 5.5z"/>
<path fill="rgb(26, 133, 100)" fill-rule="evenodd" d="M149.6 136.1l-1.5 -1.4 -2 -3.8 -6 -15.0 -18.5 -54.9 0 -25.7 9.3 32.9 15.2 50.2 3.1 11.8 0.4 5.9zM317.1 57.6l0 -0.5 0 0.5zM317.6 58.9l0 -0.6 0 0.6zM318.1 60.3l0 -0.8 0 0.8zM318.6 61.6l0 -0.9 0 0.9zM319.1 62.8l0 -0.8 0 0.8zM319.6 64.2l0 -1.0 0 1.0zM320.1 65.4l0 -0.9 0 0.9zM320.6 66.8l0 -1.1 0 1.1zM321.1 68l0 -1.1 0 1.1zM321.6 69.3l0 -1.2 0 1.2zM322.1 70.6l0 -1.2 0 1.2zM322.6 71.8l0 -1.2 0 1.2zM323.1 73.1l0 -1.3 0 1.3zM323.6 74.4l-0.4 -1.2 0.4 -0.1 0.4 1.1 -0.4 0.2zM324.1 75.7l0 -1.4 0 1.4zM325.1 78.2l-1 -2.5 0.5 -0.2 0.8 2.2 -0.3 0.5zM326.1 80.7l-1 -2.5 0.5 -0.2 0.8 2.2 -0.3 0.5zM327.1 83.2l-1 -2.5 0.5 -0.3 0.9 2.3 -0.4 0.5zM422.1 302l-67 -152.3 -23.5 -55.5 -4.5 -11.0 0.5 -0.4 19.2 45.4 58.8 132.0 13 31.4 3.5 10.4z"/>
<path fill="rgb(28, 129, 111)" fill-rule="evenodd" d="M147.6 130.7l-3.5 -6.2 -6 -15.2 -16.5 -49.1 0 -24.1 8.7 31.1 13.8 45.6 3.5 14.2 0 3.7zM355.6 149.7l0 -0.6 0 0.6zM356.1 151l0 -0.9 0 0.9zM357.6 154.7l-1 -3.6 1.4 3.1 -0.4 0.5zM417.1 290.3l-52 -118.1 -7.5 -17.5 0.5 -0.4 46.5 103.8 11 26.7 1.9 5.4 -0.4 0.1zM417.6 291.2l0 -0.9 0 0.9z"/>
<path fill="rgb(30, 124, 121)" fill-rule="evenodd" d="M145.6 123.7l-1 -0.7 -1.5 -2.8 -6 -14.8 -15.5 -46.1 0 -22.5 8.8 31.4 11.2 37.1 3.5 13.9 0.5 4.5zM371.6 185.9l0 -0.7 0 0.7zM372.6 188.4l-0.5 -2.2 0.9 2.0 -0.4 0.2zM373.1 189.6l0 -1.3 0 1.3zM412.1 278.6l-34.5 -78.4 -4.4 -10.5 0.4 -0.4 31.5 70.3 7 17.3 0.4 1.3 -0.4 0.4zM412.6 279.5l0 -1.2 0 1.2z"/>
<path fill="rgb(33, 119, 132)" fill-rule="evenodd" d="M143.1 116.9l-2.5 -4.3 -5 -12.5 -14 -41.6 0 -20.9 8.8 31.6 9.7 32.2 3 12.5 0 3.0zM390.1 227.7l0 -0.8 0 0.8zM390.6 228.9l0 -0.9 0 0.9zM391.1 230.1l0 -1.1 0 1.1zM407.6 267.8l-16.4 -37.6 0.4 -0.1 1 2.1 12.5 27.9 2.5 6.4 0 1.3zM408.1 268.6l0 -0.5 0 0.5z"/>
<path fill="rgb(36, 112, 144)" fill-rule="evenodd" d="M141.1 109.8l-0.5 0.1 -1 -1.6 -3.5 -8.2 -14.5 -42.5 0 -19.2 17.5 61.3 2 10.1z"/>
<path fill="rgb(41, 104, 158)" fill-rule="evenodd" d="M138.6 103.3l-2 -3.7 -15 -42.9 0 -17.4 17 60.9 0 3.1z"/>
<path fill="rgb(45, 97, 171)" fill-rule="evenodd" d="M134.6 90.8l-13 -35.1 0 -15.5 12 44.8 1 5.8z"/>
<path fill="rgb(48, 91, 183)" fill-rule="evenodd" d="M130.1 76.1l-4.5 -10.1 -4 -11.4 0 -13.4 7 27.1 1.5 7.8z"/>
<path fill="rgb(51, 85, 194)" fill-rule="evenodd" d="M127.1 66.8l-2.5 -4.8 -3 -8.6 0 -11.0 4.5 17.7 1 6.7z"/>
<path fill="rgb(53, 80, 205)" fill-rule="evenodd" d="M125.1 60.2l-3.5 -8.3 0 -8.0 3.5 16.3z"/>
<path fill="rgb(55, 77, 214)" fill-rule="evenodd" d="M122.1 50.4l-0.5 -1.0 0 -3.1 0.5 4.1z"/>
<defs><linearGradient id="wg" gradientUnits="userSpaceOnUse" x1="0" y1="16" x2="0" y2="392"><stop offset="0" stop-color="#fff" stop-opacity="0.65"/><stop offset="0.5" stop-color="#fff" stop-opacity="0.5"/><stop offset="0.85" stop-color="#fff" stop-opacity="0.4"/><stop offset="1" stop-color="#fff" stop-opacity="0"/></linearGradient></defs>
<path d="M249.5 16C253 26 256.5 36 260 45C263 53 266 61 269 70L294.7 130L342 230L380 312L395 350L408 389" fill="none" stroke="url(#wg)" stroke-width="1.2"/>
<rect x="121.6" y="15.7" width="617.1999999999999" height="592.3" fill="none" stroke="#000" stroke-width="2.2"/>
<path d="M121.60 608.00V619.80 M212.41 608.00V614.40 M303.23 608.00V619.80 M394.04 608.00V614.40 M484.86 608.00V619.80 M575.67 608.00V614.40 M666.49 608.00V619.80 M121.60 608.00H110.30 M121.60 565.69H115.40 M121.60 523.39H110.30 M121.60 481.08H115.40 M121.60 438.77H110.30 M121.60 396.47H115.40 M121.60 354.16H110.30 M121.60 311.85H115.40 M121.60 269.54H110.30 M121.60 227.24H115.40 M121.60 184.93H110.30 M121.60 142.62H115.40 M121.60 100.32H110.30 M121.60 58.01H115.40 M121.60 15.70H110.30" stroke="#000" stroke-width="2.1" fill="none"/>
<text x="121.30" y="651.5" text-anchor="middle" class="t">460</text>
<text x="302.93" y="651.5" text-anchor="middle" class="t">560</text>
<text x="484.56" y="651.5" text-anchor="middle" class="t">660</text>
<text x="666.19" y="651.5" text-anchor="middle" class="t">760</text>
<text x="102.6" y="616.90" text-anchor="end" class="t">0</text>
<text x="102.6" y="532.29" text-anchor="end" class="t">10</text>
<text x="102.6" y="447.67" text-anchor="end" class="t">20</text>
<text x="102.6" y="363.06" text-anchor="end" class="t">30</text>
<text x="102.6" y="278.44" text-anchor="end" class="t">40</text>
<text x="102.6" y="193.83" text-anchor="end" class="t">50</text>
<text x="102.6" y="109.22" text-anchor="end" class="t">60</text>
<text x="102.6" y="24.60" text-anchor="end" class="t">70</text>
<path d="M347.6 669.2C348 664.6 350.4 662.5 352.5 662.6C355.6 662.8 357.1 666 357.7 670.2C358.6 676 360 683 361.5 689.2C362.8 694.6 364.5 696.6 366.3 696.5C368.6 696.3 370.4 693.6 370.9 689.9" fill="none" stroke="#000" stroke-width="2.3" stroke-linecap="round"/><path d="M358.6 676.2L347.4 697.2" stroke="#000" stroke-width="3.9"/>
<text x="372.3" y="697.6" style="font-size:51.5px">(nm)</text>
<path d="M3 315.75a17.5 10.55 0 1 0 35 0a17.5 10.55 0 1 0 -35 0zM4.7 315.75a15.8 7.0 0 1 0 31.6 0a15.8 7.0 0 1 0 -31.6 0z" fill="#000" fill-rule="evenodd"/><path d="M20.65 308.5V323.2" stroke="#000" stroke-width="1.4"/>
<g transform="translate(55.3,301.6) rotate(-90)"><text x="0" y="0" style="font-size:30px">i</text></g>
<g transform="translate(743.3,44.7) scale(1.04,1)"><text x="0" y="0" style="font-size:36.5px">A</text></g>
<text x="768.2" y="57.6" style="font-size:22.5px">MoS</text>
<text x="813" y="57.6" style="font-size:14.5px">2</text>
<rect x="749.9" y="486.10" width="37.70" height="8.10" fill="#fff"/>
<rect x="749.9" y="69.3" width="37.70" height="416.80" fill="rgb(255,255,63)"/>
<rect x="749.9" y="69.3" width="37.70" height="408.30" fill="rgb(251,254,60)"/>
<rect x="749.9" y="69.3" width="37.70" height="399.81" fill="rgb(241,249,55)"/>
<rect x="749.9" y="69.3" width="37.70" height="391.31" fill="rgb(231,246,51)"/>
<rect x="749.9" y="69.3" width="37.70" height="382.82" fill="rgb(220,242,48)"/>
<rect x="749.9" y="69.3" width="37.70" height="374.32" fill="rgb(210,240,46)"/>
<rect x="749.9" y="69.3" width="37.70" height="365.82" fill="rgb(199,237,44)"/>
<rect x="749.9" y="69.3" width="37.70" height="357.33" fill="rgb(188,234,42)"/>
<rect x="749.9" y="69.3" width="37.70" height="348.83" fill="rgb(176,231,41)"/>
<rect x="749.9" y="69.3" width="37.70" height="340.34" fill="rgb(164,229,39)"/>
<rect x="749.9" y="69.3" width="37.70" height="331.84" fill="rgb(152,226,38)"/>
<rect x="749.9" y="69.3" width="37.70" height="323.35" fill="rgb(141,223,36)"/>
<rect x="749.9" y="69.3" width="37.70" height="314.85" fill="rgb(129,221,33)"/>
<rect x="749.9" y="69.3" width="37.70" height="306.35" fill="rgb(118,218,30)"/>
<rect x="749.9" y="69.3" width="37.70" height="297.86" fill="rgb(106,215,27)"/>
<rect x="749.9" y="69.3" width="37.70" height="289.36" fill="rgb(95,213,23)"/>
<rect x="749.9" y="69.3" width="37.70" height="280.87" fill="rgb(84,210,20)"/>
<rect x="749.9" y="69.3" width="37.70" height="272.37" fill="rgb(73,207,17)"/>
<rect x="749.9" y="69.3" width="37.70" height="263.88" fill="rgb(62,205,13)"/>
<rect x="749.9" y="69.3" width="37.70" height="255.38" fill="rgb(51,202,10)"/>
<rect x="749.9" y="69.3" width="37.70" height="246.88" fill="rgb(40,199,7)"/>
<rect x="749.9" y="69.3" width="37.70" height="238.39" fill="rgb(28,197,4)"/>
<rect x="749.9" y="69.3" width="37.70" height="229.89" fill="rgb(17,194,2)"/>
<rect x="749.9" y="69.3" width="37.70" height="221.40" fill="rgb(6,191,1)"/>
<rect x="749.9" y="69.3" width="37.70" height="212.90" fill="rgb(0,189,0)"/>
<rect x="749.9" y="69.3" width="37.70" height="204.40" fill="rgb(1,186,3)"/>
<rect x="749.9" y="69.3" width="37.70" height="195.91" fill="rgb(4,179,14)"/>
<rect x="749.9" y="69.3" width="37.70" height="187.41" fill="rgb(6,172,24)"/>
<rect x="749.9" y="69.3" width="37.70" height="178.92" fill="rgb(8,166,32)"/>
<rect x="749.9" y="69.3" width="37.70" height="170.42" fill="rgb(11,159,41)"/>
<rect x="749.9" y="69.3" width="37.70" height="161.93" fill="rgb(16,154,52)"/>
<rect x="749.9" y="69.3" width="37.70" height="153.43" fill="rgb(21,148,66)"/>
<rect x="749.9" y="69.3" width="37.70" height="144.93" fill="rgb(24,139,85)"/>
<rect x="749.9" y="69.3" width="37.70" height="136.44" fill="rgb(26,133,100)"/>
<rect x="749.9" y="69.3" width="37.70" height="127.94" fill="rgb(28,129,111)"/>
<rect x="749.9" y="69.3" width="37.70" height="119.45" fill="rgb(30,124,121)"/>
<rect x="749.9" y="69.3" width="37.70" height="110.95" fill="rgb(33,119,132)"/>
<rect x="749.9" y="69.3" width="37.70" height="102.45" fill="rgb(36,112,144)"/>
<rect x="749.9" y="69.3" width="37.70" height="93.96" fill="rgb(41,104,158)"/>
<rect x="749.9" y="69.3" width="37.70" height="85.46" fill="rgb(45,97,171)"/>
<rect x="749.9" y="69.3" width="37.70" height="76.97" fill="rgb(48,91,183)"/>
<rect x="749.9" y="69.3" width="37.70" height="68.47" fill="rgb(51,85,194)"/>
<rect x="749.9" y="69.3" width="37.70" height="59.98" fill="rgb(53,80,205)"/>
<rect x="749.9" y="69.3" width="37.70" height="51.48" fill="rgb(55,77,214)"/>
<rect x="749.9" y="69.3" width="37.70" height="42.98" fill="rgb(57,74,223)"/>
<rect x="749.9" y="69.3" width="37.70" height="34.49" fill="rgb(59,71,232)"/>
<rect x="749.9" y="69.3" width="37.70" height="25.99" fill="rgb(61,68,242)"/>
<rect x="749.9" y="69.3" width="37.70" height="17.50" fill="rgb(63,65,250)"/>
<rect x="749.9" y="69.3" width="37.70" height="9.00" fill="rgb(64,64,255)"/>
<rect x="749.9" y="69.3" width="37.70" height="0.50" fill="rgb(64,64,255)"/>
<rect x="749.9" y="69.3" width="37.700000000000045" height="424.9" fill="none" stroke="#000" stroke-width="1.6"/>
<path d="M787.6 68.5V495.0" stroke="#000" stroke-width="2.4"/>
<text x="806.3" y="496.30" class="t">0</text>
<text x="806.3" y="394.35" class="t">0.2</text>
<text x="806.3" y="292.40" class="t">0.4</text>
<text x="806.3" y="190.45" class="t">0.6</text>
<text x="806.3" y="88.50" class="t">0.8</text>
<path d="M787.60 486.10H796.00 M787.60 384.15H796.00 M787.60 282.20H796.00 M787.60 180.25H796.00 M787.60 78.30H796.00" stroke="#000" stroke-width="2.1" fill="none"/>
</svg></body></html>
